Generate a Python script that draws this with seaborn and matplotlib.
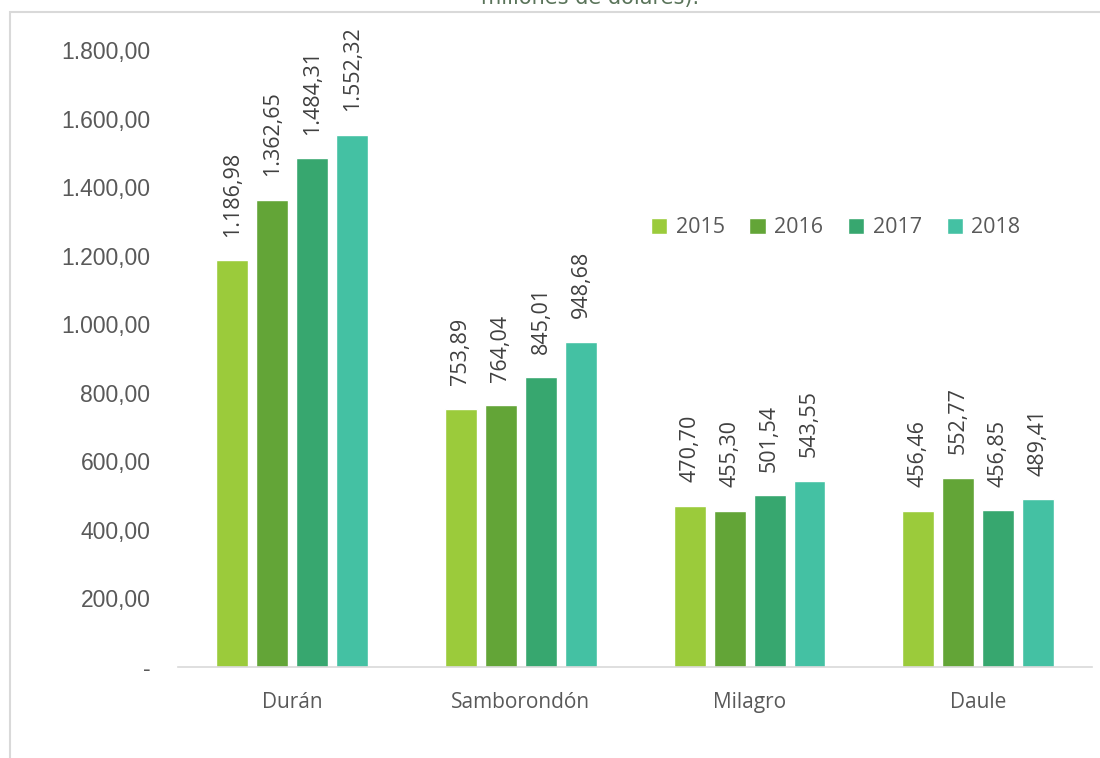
import matplotlib
matplotlib.use("Agg")
import matplotlib.pyplot as plt
import matplotlib.patches as patches
import matplotlib.ticker as mticker
import numpy as np
import pandas as pd
import seaborn as sns

# datos (millones de dólares)
cantones = ["Durán", "Samborondón", "Milagro", "Daule"]
anios = ["2015", "2016", "2017", "2018"]
v2015 = [1186.98, 753.89, 470.70, 456.46]
v2016 = [1362.65, 764.04, 455.30, 552.77]
v2017 = [1484.31, 845.01, 501.54, 456.85]
v2018 = [1552.32, 948.68, 543.55, 489.41]
colores = ["#9BCB3B", "#63A537", "#37A76F", "#44C1A3"]

df = pd.DataFrame({"canton": cantones * 4,
                   "anio": np.repeat(anios, 4),
                   "valor": v2015 + v2016 + v2017 + v2018})

sns.set_style("white")
plt.rcParams["font.family"] = ["Open Sans", "DejaVu Sans"]


def fmt_es(v):
    s = f"{v:,.2f}"
    return s.replace(",", "X").replace(".", ",").replace("X", ".")


fig = plt.figure(figsize=(11, 7.58), dpi=100)
ax = fig.add_axes([0.162, 0.120, 0.831, 0.814])

sns.barplot(data=df, x="canton", y="valor", hue="anio", palette=colores,
            width=0.7, gap=0.2, ax=ax, saturation=1)

ax.set_ylim(0, 1800)
ax.set_yticks(np.arange(0, 1801, 200))
ax.yaxis.set_major_formatter(
    mticker.FuncFormatter(lambda v, p: "-" if v == 0 else fmt_es(v)))
for lab in ax.get_yticklabels():
    lab.set_family("Liberation Sans")
ax.tick_params(axis="y", labelsize=16.5, colors="#595959", length=0, pad=20)
ax.tick_params(axis="x", labelsize=15, colors="#595959", length=0, pad=18)
ax.set_xlabel("")
ax.set_ylabel("")
for s in ["top", "right", "left"]:
    ax.spines[s].set_visible(False)
ax.spines["bottom"].set_color("#D9D9D9")
ax.spines["bottom"].set_linewidth(1.2)

for cont in ax.containers:
    ax.bar_label(cont, labels=[fmt_es(v) for v in cont.datavalues],
                 rotation=90, padding=17, fontsize=15.5, color="#404040")

ax.legend(loc="upper left", bbox_to_anchor=(0.496, 0.76), ncol=4, frameon=False,
          fontsize=15.5, labelcolor="#595959", handlelength=0.75,
          handleheight=0.75, columnspacing=1.15, handletextpad=0.4)

# marco del gráfico
fig.patches.append(patches.Rectangle((10 / 1100, -0.1), 1.2, 0.1 + (758 - 12) / 758,
                                     transform=fig.transFigure, fill=False,
                                     edgecolor="#D9D9D9", linewidth=1.5))
fig.text(0.536, 1 - 4 / 758, "millones de dólares).", ha="center", va="baseline",
         fontsize=15, color="#5A745A", family="Liberation Sans Narrow")

fig.savefig("out.png", dpi=100)
